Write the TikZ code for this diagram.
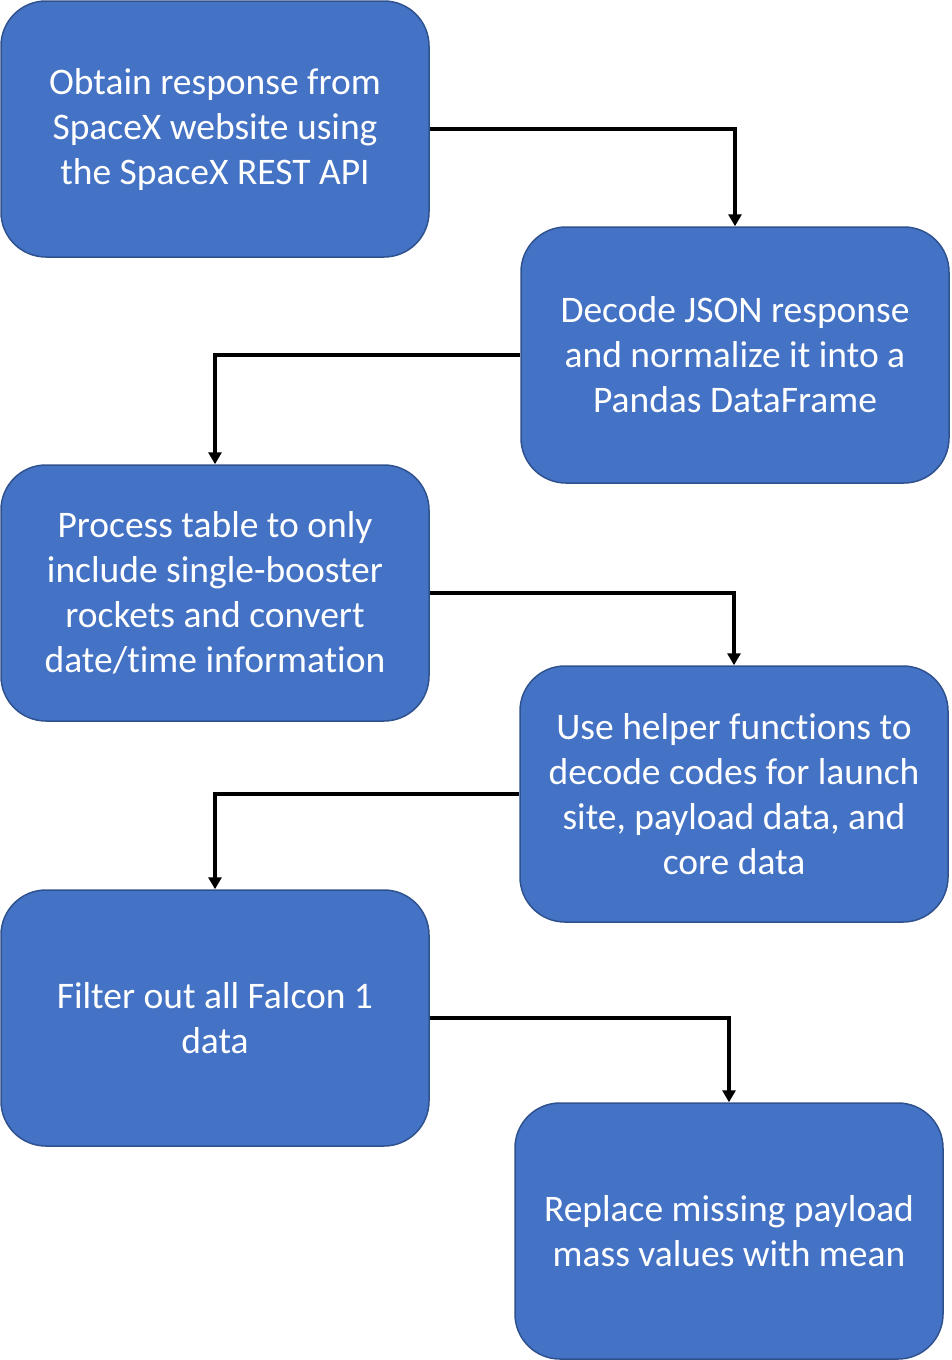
\documentclass[tikz,border=0pt]{standalone}
\usepackage{fontspec}
\setmainfont{Carlito}[Ligatures=NoCommon]
\usetikzlibrary{arrows.meta}
\definecolor{boxfill}{HTML}{4472C4}
\definecolor{boxline}{HTML}{2F528F}
\begin{document}
\begin{tikzpicture}[x=1pt,y=-1pt,
  stepbox/.style={draw=boxline, line width=1.5pt, fill=boxfill, rounded corners=45pt,
    minimum width=428pt, minimum height=256pt, inner sep=0pt, align=center,
    text=white, font=\fontsize{37.5}{45}\selectfont},
  flow/.style={line width=3.2pt, -{Triangle[width=13pt,length=12pt]}}]
\useasboundingbox (0,0) rectangle (951,1360);
\node[stepbox] (b1) at (215,129) {Obtain response from\\SpaceX website using\\the SpaceX REST API};
\node[stepbox] (b2) at (735,355) {Decode JSON response\\and normalize it into a\\Pandas DataFrame};
\node[stepbox] (b3) at (215,593) {Process table to only\\include single-booster\\rockets and convert\\date/time information};
\node[stepbox] (b4) at (734,794) {Use helper functions to\\decode codes for launch\\site, payload data, and\\core data};
\node[stepbox] (b5) at (215,1018) {Filter out all Falcon 1\\data};
\node[stepbox] (b6) at (729,1231) {Replace missing payload\\mass values with mean};
\draw[flow] (b1.east) -| (b2.north);
\draw[flow] (b2.west) -| (b3.north);
\draw[flow] (b3.east) -| (b4.north);
\draw[flow] (b4.west) -| (b5.north);
\draw[flow] (b5.east) -| (b6.north);
\end{tikzpicture}
\end{document}
